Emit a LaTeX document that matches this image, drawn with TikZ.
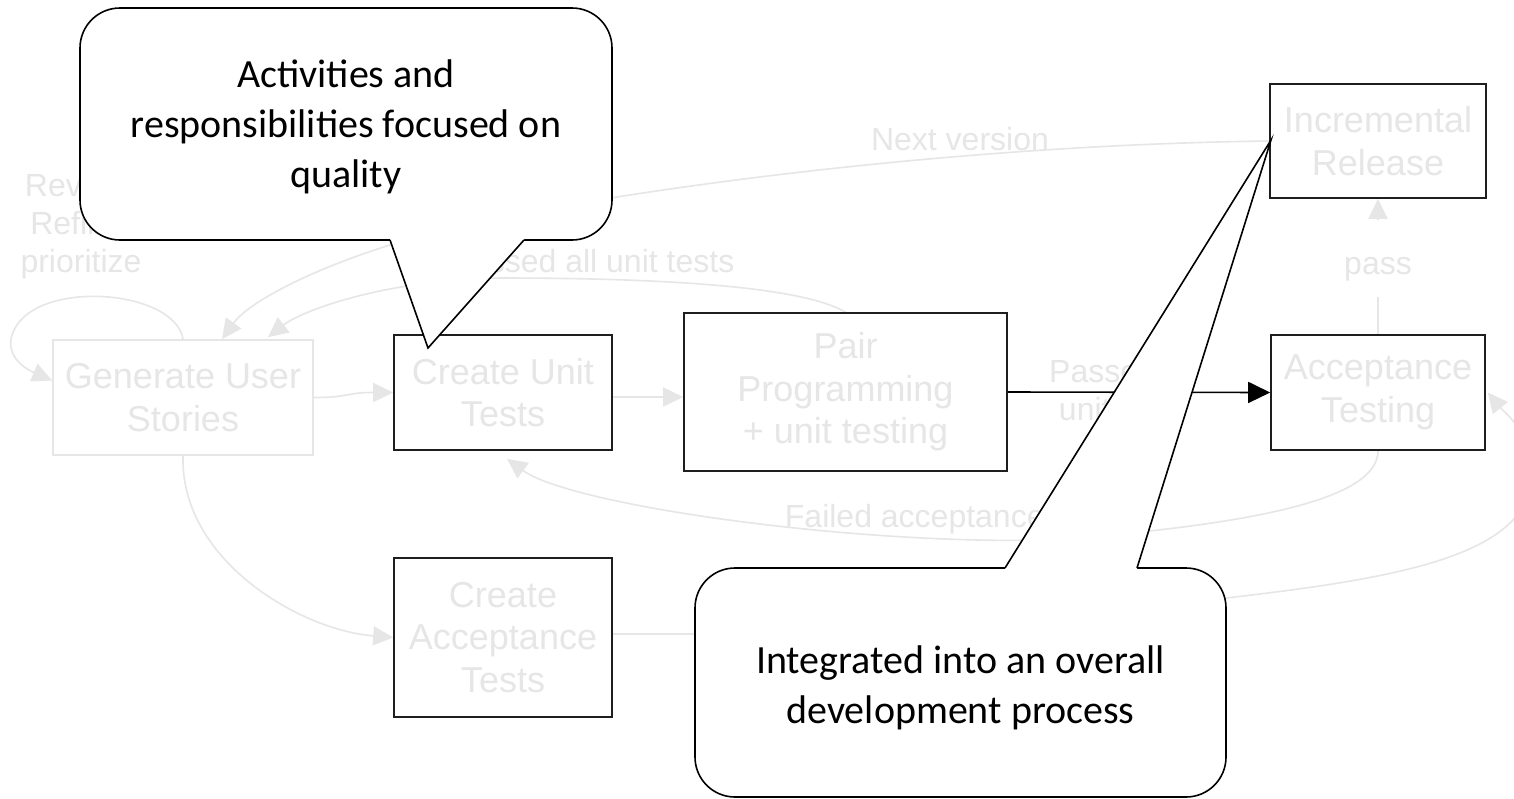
\documentclass[tikz,border=0pt]{standalone}
\usepackage{fontspec}
\setmainfont{Liberation Sans}
\newfontfamily\calibri{Carlito}
\usetikzlibrary{arrows.meta,backgrounds}
\definecolor{faint}{RGB}{230,230,230}
\definecolor{boxline}{RGB}{30,30,30}
\tikzset{
  procbox/.style={draw=boxline, line width=1.6pt, fill=white, text=faint, align=center, inner sep=0pt, font=\fontsize{36}{42.5}\selectfont},
  lbl/.style={text=faint, align=center, inner sep=0pt, font=\fontsize{32}{38}\selectfont},
  conn/.style={draw=faint, line width=1.6pt, -{Triangle[length=20pt,width=19pt]}},
  hot/.style={draw=black, line width=1.6pt, -{Triangle[length=22pt,width=21pt]}},
  callbox/.style={draw=black, line width=1.6pt, fill=white, rounded corners=40pt, inner sep=0pt},
  calltext/.style={align=center, inner sep=0pt, text=black, font=\calibri\fontsize{40}{50}\selectfont},
  ptr/.style={draw=black, line width=1.6pt, line join=miter},
}
\begin{document}
\begin{tikzpicture}[x=1pt,y=-1pt]
\useasboundingbox (0,0) rectangle (1514,798);
% process boxes
\node[procbox, draw=faint, minimum width=260pt, minimum height=115pt] (gus) at (183,397.5) {Generate User\\Stories};
\node[procbox, minimum width=218pt, minimum height=115pt] (cut) at (503,392.5) {Create Unit\\Tests};
\node[procbox, minimum width=323pt, minimum height=158pt] (pp) at (845.5,392) {Pair\\Programming\\+ unit testing};
\node[procbox, minimum width=214pt, minimum height=115pt] (at) at (1378,392.5) {Acceptance\\Testing};
\node[procbox, minimum width=216pt, minimum height=114pt] (ir) at (1378,141) {Incremental\\Release};
\node[procbox, minimum width=218pt, minimum height=159pt] (cat) at (503,637.5) {Create\\Acceptance\\Tests};

\begin{scope}[on background layer]
\fill[white] (0,0) rectangle (1514,798);
% self loop
\draw[conn] (gus.north) .. controls (175,288) and (30,278) .. (12,335) .. controls (5,358) and (28,370) .. ([yshift=17pt]gus.west);
\node[lbl] (revlbl) at (81,226) {Review,\\Refine,\\prioritize};
% forward flow
\draw[conn] (gus.east) .. controls (350,397.5) and (345,392.5) .. (cut.west);
\draw[conn] ([yshift=-4.5pt]cut.east) -- ([yshift=-5pt]pp.west);
\draw[hot] (pp.east) -- (at.west);
\node[lbl] (pulbl) at (1123,390) {Passed all\\unit tests};
% back to user stories
\draw[conn] (pp.north) .. controls (800,285) and (650,278) .. (500,278) .. controls (380,280) and (300,312) .. ([xshift=85pt,yshift=2pt]gus.north);
\node[lbl] (palbl) at (592,261) {Passed all unit tests};
\draw[conn] (ir.west) .. controls (950,145) and (620,190) .. (450,228) .. controls (330,258) and (250,300) .. ([xshift=39pt]gus.north);
\node[lbl] (nvlbl) at (960,139) {Next version};
% failed acceptance
\draw[conn] (at.south) .. controls (1378,500) and (1250,525) .. (1050,540) .. controls (850,545) and (570,505) .. ([xshift=4pt,yshift=-8pt]cut.south);
\node[lbl] (falbl) at (953,519) {Failed acceptance tests};
% acceptance tests into acceptance testing
\draw[conn] ([yshift=3.5pt]cat.east) -- (700,634) .. controls (900,633) and (1100,615) .. (1226,598) .. controls (1400,578) and (1535,555) .. (1532,470) .. controls (1530,430) and (1502,410) .. ([xshift=2pt]at.east);
\draw[conn] (gus.south) .. controls (180,560) and (300,630) .. (cat.west);
% pass
\draw[conn] (at.north) -- (ir.south);
\node[lbl, fill=white, minimum height=77pt, text height=39pt, text depth=7pt] (passlbl) at (1378,258.5) {pass};
\end{scope}

% callouts
\node[callbox, minimum width=532pt, minimum height=232pt] (c1) at (346,124) {};
\node[calltext] (c1txt) at (346,127) {Activities and\\responsibilities focused on\\quality};
\fill[white] (390,240) -- (428,348) -- (524,240) -- (524,236) -- (390,236) -- cycle;
\draw[ptr] (390,240) -- (428,348) -- (524,240);

\node[callbox, minimum width=531pt, minimum height=229pt] (c2) at (960.5,682.5) {};
\node[calltext] (c2txt) at (960.5,688) {Integrated into an overall\\development process};
\fill[white] (1005,568) -- (1271,140) -- (1137,568) -- (1137,572) -- (1005,572) -- cycle;
\draw[ptr] (1005,568) -- (1271,140) -- (1137,568);
\end{tikzpicture}
\end{document}
